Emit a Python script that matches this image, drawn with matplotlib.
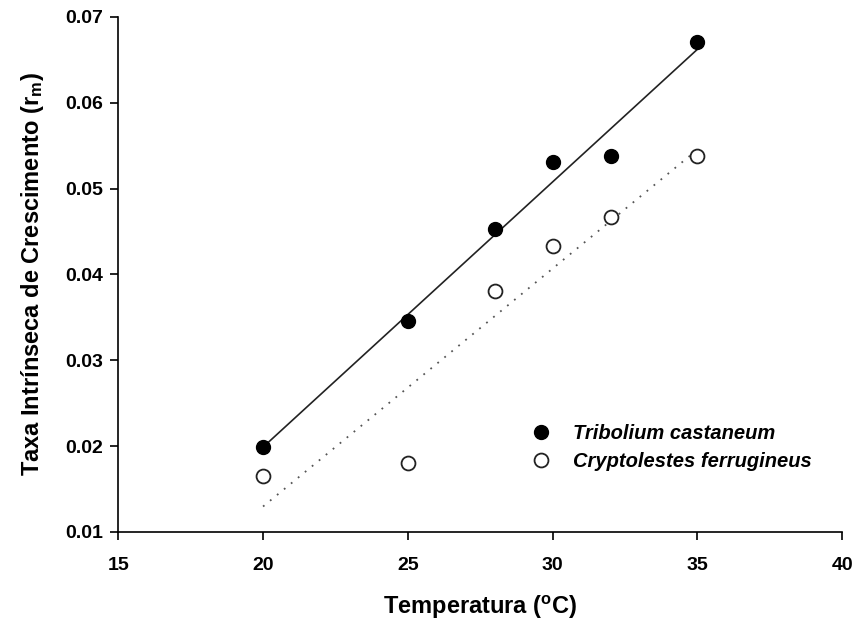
import numpy as np
import matplotlib
matplotlib.use("Agg")
import matplotlib.pyplot as plt

plt.rcParams['font.family'] = ['Liberation Sans', 'DejaVu Sans']
plt.rcParams['font.weight'] = 'bold'
plt.rcParams['mathtext.fontset'] = 'custom'
plt.rcParams['mathtext.rm'] = 'Liberation Sans:bold'
plt.rcParams['mathtext.it'] = 'Liberation Sans:bold'
plt.rcParams['mathtext.default'] = 'rm'

temp = [20, 25, 28, 30, 32, 35]
tribolium = [0.0199, 0.0346, 0.0453, 0.0531, 0.0538, 0.0671]
cryptolestes = [0.0165, 0.0180, 0.0381, 0.0433, 0.0467, 0.0538]

fig = plt.figure(figsize=(8.63, 6.28), dpi=100)
ax = fig.add_axes([0.137, 0.153, 0.839, 0.820])

x = np.array(temp, dtype=float)
xl = np.array([x.min(), x.max()])

# linear fits
p1 = np.polyfit(x, tribolium, 1)
p2 = np.polyfit(x, cryptolestes, 1)
ax.plot(xl, np.polyval(p1, xl), color='#222222', lw=1.2, ls='-')
ax.plot(xl, np.polyval(p2, xl), color='#555555', lw=1.3, ls=(0, (1, 4)))

ax.plot(temp, tribolium, 'o', ms=10, mfc='black', mec='black',
        label='Tribolium castaneum')
ax.plot(temp, cryptolestes, 'o', ms=10, mfc='white', mec='#222222', mew=1.3,
        label='Cryptolestes ferrugineus')

ax.set_xlim(15, 40)
ax.set_ylim(0.01, 0.07)
ax.set_xticks([15, 20, 25, 30, 35, 40])
ax.set_yticks([0.01, 0.02, 0.03, 0.04, 0.05, 0.06, 0.07])
ax.yaxis.set_major_formatter(matplotlib.ticker.FormatStrFormatter('%.2f'))
ax.tick_params(direction='out', length=6, width=1.2, labelsize=14)
ax.tick_params(axis='x', pad=12)
ax.tick_params(axis='y', pad=5)
for lab in ax.get_xticklabels() + ax.get_yticklabels():
    lab.set_fontweight('bold')

ax.spines['top'].set_visible(False)
ax.spines['right'].set_visible(False)
ax.spines['left'].set_linewidth(1.2)
ax.spines['bottom'].set_linewidth(1.2)

ax.set_xlabel('Temperatura ($^{\\mathrm{o}}$C)', fontsize=17, fontweight='bold', labelpad=14)
ax.set_ylabel('Taxa Intrínseca de Crescimento (r$_{\\mathrm{m}}$)', fontsize=17,
              fontweight='bold', labelpad=14)

leg = ax.legend(loc='upper left', bbox_to_anchor=(0.545, 0.2445), frameon=False,
                prop={'size': 14.5, 'style': 'italic', 'weight': 'bold'},
                handletextpad=1.1, labelspacing=0.45, handlelength=1.0)

fig.savefig('out.png', dpi=100)
